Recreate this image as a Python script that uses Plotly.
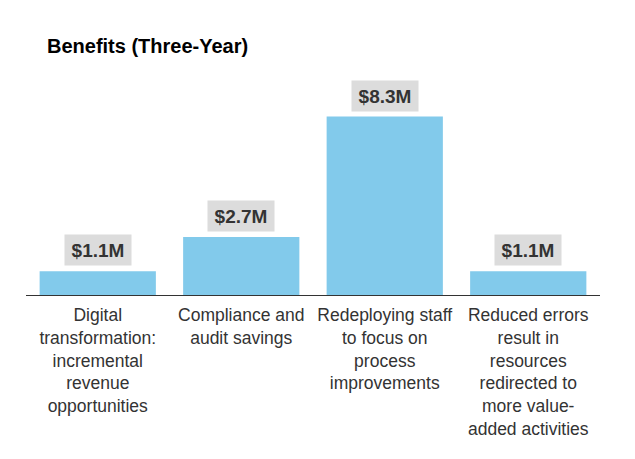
import plotly.graph_objects as go

categories = [
    "Digital<br>transformation:<br>incremental<br>revenue<br>opportunities",
    "Compliance and<br>audit savings",
    "Redeploying staff<br>to focus on<br>process<br>improvements",
    "Reduced errors<br>result in<br>resources<br>redirected to<br>more value-<br>added activities",
]
values = [1.1, 2.7, 8.3, 1.1]
value_labels = ["$1.1M", "$2.7M", "$8.3M", "$1.1M"]

FONT = "Liberation Sans, Arial, sans-serif"

# page body has an 8px margin; compensate
W, H = 627, 451

fig = go.Figure()
fig.add_trace(go.Bar(
    x=categories, y=values,
    marker=dict(color="#82CAEB", line=dict(width=0)),
    width=0.81,
    hoverinfo="skip",
))

for c, v, t in zip(categories, values, value_labels):
    fig.add_annotation(
        x=c, y=v, text="<b>%s</b>" % t, showarrow=False,
        yanchor="bottom", yshift=5,
        font=dict(family=FONT, size=19, color="#333333"),
        bgcolor="#DCDCDC", borderpad=4, width=58, height=22,
    )

fig.update_layout(
    width=W, height=H,
    margin=dict(l=18, r=35, t=72, b=164),
    paper_bgcolor="white", plot_bgcolor="white",
    showlegend=False,
    title=dict(text="<b>Benefits (Three-Year)</b>", x=39/W, xanchor="left",
               y=1 - 38/H, yanchor="middle",
               font=dict(family=FONT, size=20, color="#000000")),
    xaxis=dict(showline=True, linecolor="#333333", linewidth=1.3,
               ticks="", showgrid=False, ticklabelstandoff=4,
               tickfont=dict(family=FONT, size=17.5, color="#333333")),
    yaxis=dict(range=[0, 10], visible=False, showgrid=False, fixedrange=True),
    bargap=0.19,
)

fig.write_html("out.html")
